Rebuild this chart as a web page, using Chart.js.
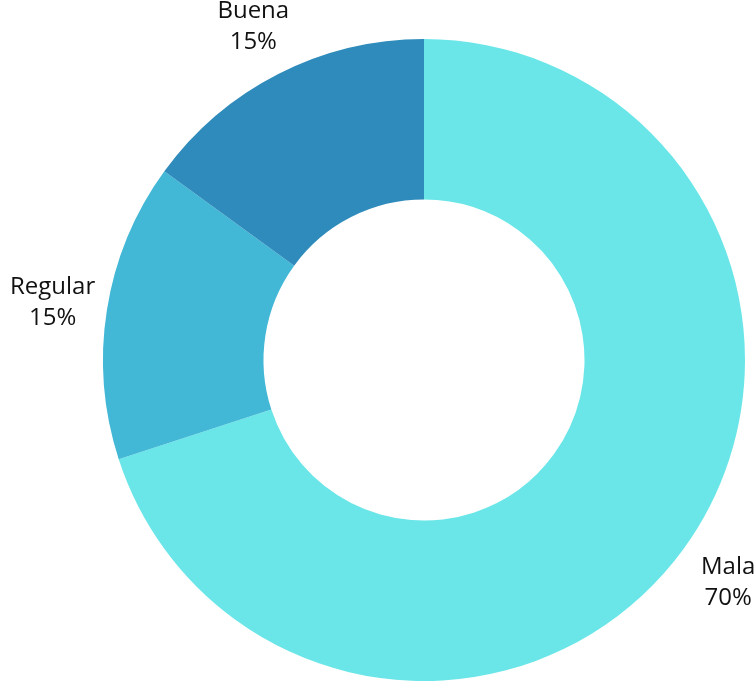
<!DOCTYPE html>
<html>
<head>
<meta charset="utf-8">
<script src="https://cdn.jsdelivr.net/npm/chart.js@4"></script>
<style>
  html, body { margin: 0; padding: 0; background: #fff; }
  #wrap { width: 755px; height: 682px; position: relative; }
</style>
</head>
<body>
<div id="wrap"><canvas id="myChart"></canvas></div>
<script>
const labels = ["Mala", "Regular", "Buena"];
const values = [70, 15, 15];
const colors = ["#6ae6e8", "#42b7d6", "#2e8bbb"];

// draws "name / pct%" outside each slice
const outsideLabels = {
  id: 'outsideLabels',
  afterDraw(chart) {
    const ctx = chart.ctx;
    const meta = chart.getDatasetMeta(0);
    const total = values.reduce((a, b) => a + b, 0);
    ctx.save();
    ctx.font = '24px "Open Sans"';
    ctx.fillStyle = '#111';
    ctx.textAlign = 'center';
    ctx.textBaseline = 'middle';
    meta.data.forEach((arc, i) => {
      const mid = (arc.startAngle + arc.endAngle) / 2;
      const r = arc.outerRadius + 55;
      const x = arc.x + Math.cos(mid) * r;
      const y = arc.y + Math.sin(mid) * r;
      const pct = Math.round(values[i] / total * 100) + '%';
      ctx.fillText(labels[i], x, y - 14);
      ctx.fillText(pct, x, y + 17);
    });
    ctx.restore();
  }
};

const ctx = document.getElementById('myChart');
const myChart = new Chart(ctx, {
  type: 'doughnut',
  data: {
    labels: labels,
    datasets: [{
      data: values,
      backgroundColor: colors,
      borderWidth: 0
    }]
  },
  options: {
    responsive: true,
    maintainAspectRatio: false,
    animation: false,
    cutout: '50%',
    layout: {
      padding: { top: 39, bottom: 1, left: 103, right: 10 }
    },
    plugins: {
      legend: { display: false },
      tooltip: { enabled: false }
    }
  },
  plugins: [outsideLabels]
});
</script>
</body>
</html>
